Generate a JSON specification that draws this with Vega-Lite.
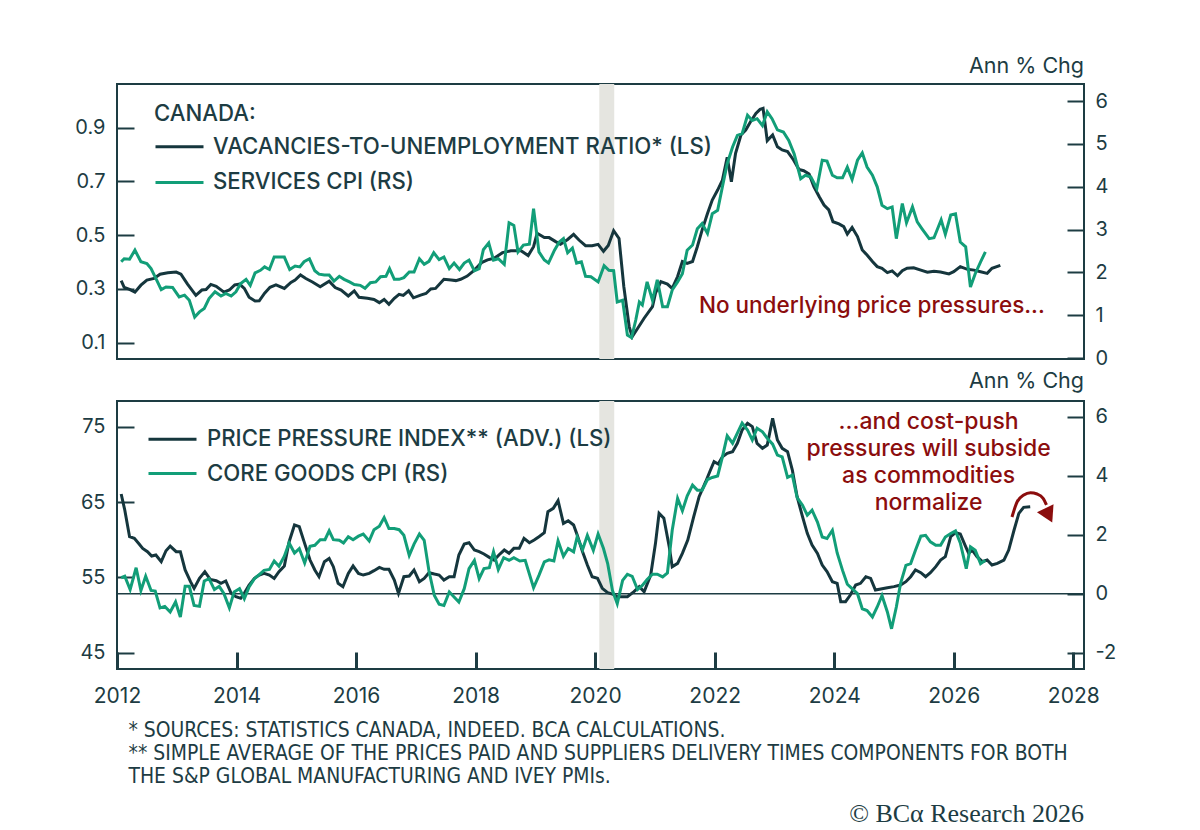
{
  "$schema": "https://vega.github.io/schema/vega-lite/v6.json",
  "background": "white",
  "padding": {"left": 73, "top": 54, "right": 5, "bottom": 2},
  "spacing": 42,
  "bounds": "flush",
  "datasets": {
    "vu": [
      {"date":2012.07,"value":0.331},{"date":2012.12,"value":0.306},{"date":2012.21,"value":0.298},{"date":2012.30,"value":0.288},{"date":2012.40,"value":0.314},{"date":2012.50,"value":0.333},{"date":2012.62,"value":0.339},{"date":2012.72,"value":0.355},{"date":2012.85,"value":0.360},{"date":2012.99,"value":0.363},
      {"date":2013.07,"value":0.355},{"date":2013.18,"value":0.318},{"date":2013.32,"value":0.276},{"date":2013.42,"value":0.296},{"date":2013.49,"value":0.298},{"date":2013.57,"value":0.317},{"date":2013.66,"value":0.310},{"date":2013.79,"value":0.288},{"date":2013.88,"value":0.296},{"date":2013.97,"value":0.315},
      {"date":2014.05,"value":0.318},{"date":2014.13,"value":0.302},{"date":2014.21,"value":0.269},{"date":2014.31,"value":0.255},{"date":2014.38,"value":0.256},{"date":2014.47,"value":0.284},{"date":2014.56,"value":0.306},{"date":2014.66,"value":0.315},{"date":2014.80,"value":0.302},{"date":2014.91,"value":0.324},{"date":2014.98,"value":0.333},
      {"date":2015.07,"value":0.352},{"date":2015.16,"value":0.339},{"date":2015.27,"value":0.326},{"date":2015.40,"value":0.308},{"date":2015.55,"value":0.329},{"date":2015.65,"value":0.305},{"date":2015.75,"value":0.296},{"date":2015.87,"value":0.274},{"date":2015.97,"value":0.293},
      {"date":2016.05,"value":0.269},{"date":2016.19,"value":0.265},{"date":2016.30,"value":0.261},{"date":2016.39,"value":0.249},{"date":2016.47,"value":0.261},{"date":2016.55,"value":0.243},{"date":2016.64,"value":0.265},{"date":2016.72,"value":0.280},{"date":2016.79,"value":0.276},{"date":2016.88,"value":0.293},{"date":2016.96,"value":0.267},
      {"date":2017.08,"value":0.277},{"date":2017.17,"value":0.283},{"date":2017.25,"value":0.300},{"date":2017.33,"value":0.302},{"date":2017.47,"value":0.336},{"date":2017.59,"value":0.333},{"date":2017.67,"value":0.331},{"date":2017.75,"value":0.336},{"date":2017.86,"value":0.348},{"date":2017.98,"value":0.370},
      {"date":2018.10,"value":0.398},{"date":2018.20,"value":0.408},{"date":2018.31,"value":0.414},{"date":2018.45,"value":0.435},{"date":2018.59,"value":0.442},{"date":2018.76,"value":0.442},{"date":2018.88,"value":0.424},{"date":2018.97,"value":0.457},
      {"date":2019.03,"value":0.507},{"date":2019.15,"value":0.491},{"date":2019.23,"value":0.491},{"date":2019.34,"value":0.476},{"date":2019.42,"value":0.466},{"date":2019.54,"value":0.484},{"date":2019.64,"value":0.503},{"date":2019.73,"value":0.482},{"date":2019.84,"value":0.461},{"date":2019.95,"value":0.461},
      {"date":2020.05,"value":0.466},{"date":2020.14,"value":0.440},{"date":2020.22,"value":0.462},{"date":2020.31,"value":0.517},{"date":2020.40,"value":0.488},{"date":2020.48,"value":0.309},{"date":2020.57,"value":0.160},{"date":2020.62,"value":0.122},{"date":2020.71,"value":0.153},{"date":2020.82,"value":0.191},{"date":2020.96,"value":0.234},
      {"date":2021.01,"value":0.284},{"date":2021.10,"value":0.327},{"date":2021.21,"value":0.318},{"date":2021.29,"value":0.302},{"date":2021.38,"value":0.346},{"date":2021.46,"value":0.402},{"date":2021.54,"value":0.395},{"date":2021.63,"value":0.402},{"date":2021.71,"value":0.457},{"date":2021.79,"value":0.519},{"date":2021.88,"value":0.581},{"date":2021.96,"value":0.631},
      {"date":2022.05,"value":0.668},{"date":2022.13,"value":0.705},{"date":2022.21,"value":0.790},{"date":2022.28,"value":0.699},{"date":2022.35,"value":0.805},{"date":2022.44,"value":0.873},{"date":2022.52,"value":0.891},{"date":2022.60,"value":0.922},{"date":2022.69,"value":0.953},{"date":2022.76,"value":0.968},{"date":2022.81,"value":0.972},{"date":2022.88,"value":0.852},{"date":2022.97,"value":0.873},
      {"date":2023.05,"value":0.829},{"date":2023.13,"value":0.817},{"date":2023.22,"value":0.811},{"date":2023.32,"value":0.780},{"date":2023.41,"value":0.745},{"date":2023.49,"value":0.740},{"date":2023.58,"value":0.728},{"date":2023.66,"value":0.681},{"date":2023.75,"value":0.643},{"date":2023.83,"value":0.612},{"date":2023.91,"value":0.594},{"date":2023.98,"value":0.550},
      {"date":2024.08,"value":0.542},{"date":2024.16,"value":0.532},{"date":2024.22,"value":0.504},{"date":2024.30,"value":0.529},{"date":2024.39,"value":0.495},{"date":2024.47,"value":0.445},{"date":2024.55,"value":0.426},{"date":2024.64,"value":0.402},{"date":2024.72,"value":0.383},{"date":2024.80,"value":0.377},{"date":2024.89,"value":0.361},{"date":2024.97,"value":0.367},
      {"date":2025.06,"value":0.349},{"date":2025.14,"value":0.368},{"date":2025.22,"value":0.377},{"date":2025.33,"value":0.379},{"date":2025.45,"value":0.370},{"date":2025.56,"value":0.362},{"date":2025.67,"value":0.366},{"date":2025.78,"value":0.363},{"date":2025.92,"value":0.356},
      {"date":2026.00,"value":0.364},{"date":2026.11,"value":0.383},{"date":2026.23,"value":0.373},{"date":2026.34,"value":0.370},{"date":2026.45,"value":0.364},{"date":2026.56,"value":0.358},{"date":2026.64,"value":0.377},{"date":2026.78,"value":0.388}
    ],
    "svc": [
      {"date":2012.07,"value":2.25},{"date":2012.12,"value":2.32},{"date":2012.21,"value":2.31},{"date":2012.30,"value":2.52},{"date":2012.40,"value":2.25},{"date":2012.50,"value":2.21},{"date":2012.57,"value":2.09},{"date":2012.65,"value":1.86},{"date":2012.74,"value":1.60},{"date":2012.82,"value":1.66},{"date":2012.93,"value":1.65},
      {"date":2013.04,"value":1.43},{"date":2013.13,"value":1.47},{"date":2013.21,"value":1.35},{"date":2013.30,"value":0.96},{"date":2013.38,"value":1.08},{"date":2013.46,"value":1.16},{"date":2013.54,"value":1.39},{"date":2013.64,"value":1.55},{"date":2013.74,"value":1.45},{"date":2013.82,"value":1.51},{"date":2013.91,"value":1.45},{"date":2013.99,"value":1.55},
      {"date":2014.07,"value":1.74},{"date":2014.16,"value":1.84},{"date":2014.23,"value":1.70},{"date":2014.31,"value":1.99},{"date":2014.40,"value":2.05},{"date":2014.47,"value":2.13},{"date":2014.55,"value":2.07},{"date":2014.63,"value":2.36},{"date":2014.71,"value":2.36},{"date":2014.80,"value":2.36},{"date":2014.89,"value":2.07},{"date":2014.98,"value":2.15},
      {"date":2015.06,"value":2.13},{"date":2015.13,"value":2.25},{"date":2015.22,"value":2.32},{"date":2015.31,"value":2.04},{"date":2015.38,"value":1.96},{"date":2015.47,"value":1.94},{"date":2015.55,"value":1.94},{"date":2015.63,"value":1.80},{"date":2015.72,"value":1.91},{"date":2015.80,"value":1.84},{"date":2015.89,"value":1.78},{"date":2015.97,"value":1.72},
      {"date":2016.07,"value":1.70},{"date":2016.15,"value":1.63},{"date":2016.24,"value":1.76},{"date":2016.33,"value":1.78},{"date":2016.41,"value":1.90},{"date":2016.50,"value":1.91},{"date":2016.56,"value":2.09},{"date":2016.64,"value":1.84},{"date":2016.72,"value":1.84},{"date":2016.80,"value":1.88},{"date":2016.89,"value":2.01},{"date":2016.97,"value":2.01},
      {"date":2017.06,"value":2.32},{"date":2017.14,"value":2.19},{"date":2017.22,"value":2.26},{"date":2017.30,"value":2.46},{"date":2017.39,"value":2.30},{"date":2017.47,"value":2.36},{"date":2017.56,"value":2.09},{"date":2017.64,"value":2.22},{"date":2017.73,"value":2.07},{"date":2017.81,"value":2.22},{"date":2017.89,"value":2.29},{"date":2017.98,"value":2.04},
      {"date":2018.06,"value":2.09},{"date":2018.13,"value":2.53},{"date":2018.22,"value":2.69},{"date":2018.30,"value":2.29},{"date":2018.38,"value":2.32},{"date":2018.48,"value":2.19},{"date":2018.56,"value":3.16},{"date":2018.64,"value":3.10},{"date":2018.71,"value":2.48},{"date":2018.80,"value":2.64},{"date":2018.90,"value":2.66},{"date":2018.97,"value":3.49},
      {"date":2019.06,"value":2.48},{"date":2019.15,"value":2.29},{"date":2019.22,"value":2.22},{"date":2019.32,"value":2.52},{"date":2019.40,"value":2.71},{"date":2019.47,"value":2.79},{"date":2019.54,"value":2.46},{"date":2019.62,"value":2.57},{"date":2019.69,"value":2.22},{"date":2019.77,"value":2.25},{"date":2019.84,"value":1.91},{"date":2019.93,"value":1.90},
      {"date":2020.05,"value":1.78},{"date":2020.15,"value":2.16},{"date":2020.23,"value":2.05},{"date":2020.31,"value":2.04},{"date":2020.37,"value":1.31},{"date":2020.46,"value":1.35},{"date":2020.54,"value":0.54},{"date":2020.61,"value":0.48},{"date":2020.68,"value":0.89},{"date":2020.74,"value":1.31},{"date":2020.79,"value":1.24},{"date":2020.87,"value":1.78},{"date":2020.96,"value":1.35},
      {"date":2021.04,"value":1.83},{"date":2021.13,"value":1.20},{"date":2021.21,"value":1.20},{"date":2021.29,"value":1.59},{"date":2021.38,"value":1.78},{"date":2021.46,"value":1.97},{"date":2021.54,"value":2.52},{"date":2021.63,"value":2.64},{"date":2021.71,"value":3.02},{"date":2021.79,"value":3.14},{"date":2021.88,"value":2.91},{"date":2021.96,"value":3.37},
      {"date":2022.05,"value":3.45},{"date":2022.13,"value":4.00},{"date":2022.21,"value":4.54},{"date":2022.30,"value":4.93},{"date":2022.38,"value":5.20},{"date":2022.46,"value":5.24},{"date":2022.55,"value":5.67},{"date":2022.63,"value":5.55},{"date":2022.71,"value":5.59},{"date":2022.80,"value":5.43},{"date":2022.88,"value":5.75},{"date":2022.96,"value":5.59},
      {"date":2023.05,"value":5.33},{"date":2023.15,"value":5.28},{"date":2023.24,"value":5.08},{"date":2023.33,"value":4.77},{"date":2023.44,"value":4.19},{"date":2023.52,"value":4.27},{"date":2023.61,"value":4.23},{"date":2023.71,"value":3.96},{"date":2023.80,"value":4.62},{"date":2023.88,"value":4.60},{"date":2023.97,"value":4.27},
      {"date":2024.05,"value":4.21},{"date":2024.14,"value":4.21},{"date":2024.22,"value":4.46},{"date":2024.30,"value":4.17},{"date":2024.39,"value":4.62},{"date":2024.47,"value":4.79},{"date":2024.55,"value":4.46},{"date":2024.64,"value":4.27},{"date":2024.72,"value":4.00},{"date":2024.80,"value":3.57},{"date":2024.89,"value":3.49},{"date":2024.97,"value":3.53},
      {"date":2025.04,"value":2.79},{"date":2025.14,"value":3.61},{"date":2025.21,"value":3.16},{"date":2025.31,"value":3.53},{"date":2025.39,"value":3.18},{"date":2025.47,"value":3.02},{"date":2025.59,"value":2.79},{"date":2025.67,"value":2.81},{"date":2025.79,"value":3.23},{"date":2025.86,"value":2.89},{"date":2025.95,"value":3.34},
      {"date":2026.03,"value":3.37},{"date":2026.11,"value":2.71},{"date":2026.20,"value":2.60},{"date":2026.28,"value":1.66},{"date":2026.36,"value":1.97},{"date":2026.45,"value":2.25},{"date":2026.53,"value":2.48}
    ],
    "ppi": [
      {"date":2012.07,"value":66.07},{"date":2012.13,"value":63.94},{"date":2012.21,"value":60.40},{"date":2012.29,"value":60.18},{"date":2012.36,"value":59.52},{"date":2012.43,"value":58.85},{"date":2012.51,"value":58.41},{"date":2012.58,"value":57.84},{"date":2012.65,"value":57.97},{"date":2012.74,"value":57.08},{"date":2012.82,"value":58.54},{"date":2012.89,"value":59.16},{"date":2012.99,"value":58.41},
      {"date":2013.06,"value":58.41},{"date":2013.14,"value":55.98},{"date":2013.23,"value":54.43},{"date":2013.29,"value":53.54},{"date":2013.38,"value":54.87},{"date":2013.47,"value":55.76},{"date":2013.56,"value":54.74},{"date":2013.66,"value":54.56},{"date":2013.74,"value":54.21},{"date":2013.82,"value":54.52},{"date":2013.91,"value":52.88},{"date":2013.99,"value":52.44},
      {"date":2014.07,"value":52.22},{"date":2014.13,"value":52.88},{"date":2014.21,"value":53.99},{"date":2014.30,"value":54.87},{"date":2014.38,"value":55.31},{"date":2014.46,"value":55.53},{"date":2014.55,"value":55.31},{"date":2014.63,"value":54.87},{"date":2014.71,"value":55.76},{"date":2014.80,"value":56.51},{"date":2014.88,"value":59.74},{"date":2014.97,"value":61.95},
      {"date":2015.05,"value":61.73},{"date":2015.13,"value":59.74},{"date":2015.23,"value":57.30},{"date":2015.31,"value":55.98},{"date":2015.38,"value":55.09},{"date":2015.47,"value":57.08},{"date":2015.55,"value":57.52},{"date":2015.62,"value":56.42},{"date":2015.70,"value":54.21},{"date":2015.78,"value":53.76},{"date":2015.87,"value":55.53},{"date":2015.95,"value":56.51},
      {"date":2016.04,"value":55.53},{"date":2016.12,"value":55.31},{"date":2016.22,"value":55.53},{"date":2016.30,"value":55.89},{"date":2016.39,"value":56.33},{"date":2016.47,"value":56.07},{"date":2016.55,"value":56.07},{"date":2016.64,"value":54.65},{"date":2016.71,"value":52.88},{"date":2016.80,"value":55.09},{"date":2016.89,"value":55.18},{"date":2016.97,"value":55.98},
      {"date":2017.06,"value":54.43},{"date":2017.14,"value":54.87},{"date":2017.22,"value":55.62},{"date":2017.31,"value":55.44},{"date":2017.39,"value":55.31},{"date":2017.47,"value":54.65},{"date":2017.56,"value":55.09},{"date":2017.64,"value":55.09},{"date":2017.72,"value":57.97},{"date":2017.81,"value":59.43},{"date":2017.89,"value":59.60},{"date":2017.98,"value":58.63},
      {"date":2018.06,"value":58.41},{"date":2018.14,"value":58.10},{"date":2018.23,"value":57.66},{"date":2018.31,"value":57.30},{"date":2018.39,"value":57.97},{"date":2018.48,"value":58.63},{"date":2018.56,"value":58.19},{"date":2018.64,"value":58.85},{"date":2018.73,"value":58.85},{"date":2018.81,"value":60.18},{"date":2018.90,"value":59.60},{"date":2018.98,"value":59.96},
      {"date":2019.06,"value":60.40},{"date":2019.15,"value":60.93},{"date":2019.21,"value":63.72},{"date":2019.30,"value":64.16},{"date":2019.38,"value":65.18},{"date":2019.47,"value":62.17},{"date":2019.55,"value":62.52},{"date":2019.64,"value":61.95},{"date":2019.70,"value":60.62},{"date":2019.79,"value":58.41},{"date":2019.87,"value":56.64},{"date":2019.95,"value":55.09},
      {"date":2020.04,"value":54.87},{"date":2020.12,"value":53.54},{"date":2020.21,"value":52.97},{"date":2020.29,"value":52.79},{"date":2020.37,"value":52.44},{"date":2020.54,"value":52.44},{"date":2020.65,"value":53.10},{"date":2020.74,"value":53.77},{"date":2020.82,"value":53.10},{"date":2020.93,"value":55.31},
      {"date":2021.01,"value":59.52},{"date":2021.07,"value":63.50},{"date":2021.15,"value":62.84},{"date":2021.24,"value":59.07},{"date":2021.29,"value":56.42},{"date":2021.38,"value":56.86},{"date":2021.46,"value":58.19},{"date":2021.55,"value":59.96},{"date":2021.65,"value":63.06},{"date":2021.74,"value":65.71},{"date":2021.85,"value":67.70},{"date":2021.93,"value":69.25},{"date":2021.99,"value":70.36},
      {"date":2022.06,"value":70.05},{"date":2022.13,"value":71.02},{"date":2022.21,"value":71.47},{"date":2022.30,"value":71.69},{"date":2022.38,"value":72.79},{"date":2022.46,"value":74.56},{"date":2022.55,"value":75.45},{"date":2022.63,"value":75.01},{"date":2022.71,"value":72.79},{"date":2022.80,"value":72.13},{"date":2022.88,"value":72.57},{"date":2022.97,"value":76.11},
      {"date":2023.05,"value":73.24},{"date":2023.13,"value":72.13},{"date":2023.22,"value":71.69},{"date":2023.30,"value":69.25},{"date":2023.38,"value":65.71},{"date":2023.47,"value":63.06},{"date":2023.55,"value":60.85},{"date":2023.63,"value":59.30},{"date":2023.72,"value":58.19},{"date":2023.80,"value":56.64},{"date":2023.88,"value":55.76},{"date":2023.97,"value":54.43},
      {"date":2024.05,"value":54.21},{"date":2024.11,"value":51.77},{"date":2024.19,"value":51.77},{"date":2024.27,"value":52.66},{"date":2024.36,"value":53.99},{"date":2024.44,"value":54.21},{"date":2024.53,"value":55.09},{"date":2024.61,"value":54.87},{"date":2024.69,"value":53.32},{"date":2024.78,"value":53.46},{"date":2024.89,"value":53.63},
      {"date":2025.00,"value":53.77},{"date":2025.11,"value":53.99},{"date":2025.20,"value":54.43},{"date":2025.28,"value":55.09},{"date":2025.36,"value":55.98},{"date":2025.45,"value":55.62},{"date":2025.53,"value":55.09},{"date":2025.61,"value":55.62},{"date":2025.70,"value":56.42},{"date":2025.78,"value":57.30},{"date":2025.86,"value":57.75},{"date":2025.95,"value":60.40},
      {"date":2026.03,"value":60.93},{"date":2026.11,"value":60.76},{"date":2026.20,"value":59.08},{"date":2026.25,"value":58.19},{"date":2026.31,"value":58.63},{"date":2026.39,"value":57.75},{"date":2026.48,"value":57.08},{"date":2026.56,"value":57.30},{"date":2026.64,"value":56.64},{"date":2026.73,"value":56.86},{"date":2026.84,"value":57.30},{"date":2026.92,"value":58.63},
      {"date":2027.01,"value":61.29},{"date":2027.09,"value":63.50},{"date":2027.17,"value":64.30},{"date":2027.28,"value":64.39}
    ],
    "core": [
      {"date":2012.07,"value":0.54},{"date":2012.13,"value":0.59},{"date":2012.22,"value":0.14},{"date":2012.32,"value":0.88},{"date":2012.40,"value":0.11},{"date":2012.48,"value":0.59},{"date":2012.57,"value":0.11},{"date":2012.64,"value":0.09},{"date":2012.72,"value":-0.48},{"date":2012.80,"value":-0.43},{"date":2012.89,"value":-0.62},{"date":2012.98,"value":-0.28},
      {"date":2013.06,"value":-0.79},{"date":2013.14,"value":0.25},{"date":2013.21,"value":0.25},{"date":2013.29,"value":-0.40},{"date":2013.38,"value":-0.43},{"date":2013.46,"value":0.43},{"date":2013.54,"value":0.51},{"date":2013.63,"value":0.14},{"date":2013.71,"value":0.25},{"date":2013.79,"value":0.00},{"date":2013.88,"value":-0.48},{"date":2013.96,"value":0.06},
      {"date":2014.05,"value":0.17},{"date":2014.13,"value":-0.17},{"date":2014.21,"value":0.23},{"date":2014.30,"value":0.51},{"date":2014.38,"value":0.65},{"date":2014.46,"value":0.79},{"date":2014.55,"value":0.82},{"date":2014.63,"value":1.11},{"date":2014.71,"value":0.93},{"date":2014.80,"value":1.27},{"date":2014.88,"value":1.72},{"date":2014.97,"value":1.38},
      {"date":2015.05,"value":1.53},{"date":2015.14,"value":1.04},{"date":2015.23,"value":1.61},{"date":2015.31,"value":1.64},{"date":2015.40,"value":1.83},{"date":2015.48,"value":1.83},{"date":2015.55,"value":2.13},{"date":2015.62,"value":1.83},{"date":2015.72,"value":1.81},{"date":2015.79,"value":1.72},{"date":2015.87,"value":1.93},{"date":2015.95,"value":1.83},
      {"date":2016.04,"value":1.95},{"date":2016.12,"value":2.02},{"date":2016.22,"value":1.79},{"date":2016.30,"value":2.17},{"date":2016.39,"value":2.29},{"date":2016.47,"value":2.58},{"date":2016.55,"value":2.21},{"date":2016.64,"value":2.21},{"date":2016.72,"value":2.17},{"date":2016.80,"value":1.98},{"date":2016.89,"value":1.30},{"date":2016.97,"value":1.68},
      {"date":2017.06,"value":2.02},{"date":2017.14,"value":1.81},{"date":2017.22,"value":0.77},{"date":2017.31,"value":-0.06},{"date":2017.39,"value":-0.36},{"date":2017.47,"value":-0.40},{"date":2017.56,"value":0.06},{"date":2017.64,"value":-0.11},{"date":2017.72,"value":-0.28},{"date":2017.81,"value":0.17},{"date":2017.89,"value":0.85},{"date":2017.98,"value":1.13},
      {"date":2018.06,"value":0.51},{"date":2018.14,"value":0.85},{"date":2018.23,"value":0.88},{"date":2018.30,"value":1.42},{"date":2018.38,"value":0.82},{"date":2018.47,"value":1.22},{"date":2018.56,"value":1.13},{"date":2018.64,"value":1.22},{"date":2018.74,"value":1.11},{"date":2018.83,"value":1.13},{"date":2018.97,"value":0.20},
      {"date":2019.06,"value":0.62},{"date":2019.15,"value":1.08},{"date":2019.23,"value":1.15},{"date":2019.31,"value":1.11},{"date":2019.38,"value":1.79},{"date":2019.47,"value":1.27},{"date":2019.55,"value":1.53},{"date":2019.64,"value":1.42},{"date":2019.70,"value":1.93},{"date":2019.79,"value":1.49},{"date":2019.87,"value":1.98},{"date":2019.97,"value":1.47},
      {"date":2020.05,"value":2.02},{"date":2020.14,"value":1.53},{"date":2020.21,"value":1.02},{"date":2020.29,"value":0.11},{"date":2020.37,"value":-0.34},{"date":2020.46,"value":0.45},{"date":2020.54,"value":0.66},{"date":2020.62,"value":0.59},{"date":2020.71,"value":0.14},{"date":2020.79,"value":0.28},{"date":2020.87,"value":0.48},{"date":2020.96,"value":0.66},
      {"date":2021.04,"value":0.66},{"date":2021.13,"value":0.57},{"date":2021.21,"value":0.70},{"date":2021.29,"value":2.15},{"date":2021.38,"value":3.23},{"date":2021.46,"value":2.81},{"date":2021.54,"value":3.31},{"date":2021.63,"value":3.68},{"date":2021.71,"value":3.51},{"date":2021.79,"value":3.51},{"date":2021.88,"value":3.87},{"date":2021.96,"value":3.94},
      {"date":2022.05,"value":3.99},{"date":2022.13,"value":4.64},{"date":2022.21,"value":5.35},{"date":2022.30,"value":5.10},{"date":2022.38,"value":5.44},{"date":2022.46,"value":5.78},{"date":2022.55,"value":5.55},{"date":2022.63,"value":5.21},{"date":2022.71,"value":5.61},{"date":2022.80,"value":5.49},{"date":2022.88,"value":5.27},{"date":2022.97,"value":5.07},
      {"date":2023.05,"value":4.70},{"date":2023.13,"value":4.64},{"date":2023.22,"value":3.94},{"date":2023.30,"value":4.02},{"date":2023.38,"value":3.26},{"date":2023.47,"value":3.00},{"date":2023.55,"value":2.66},{"date":2023.63,"value":2.83},{"date":2023.72,"value":2.43},{"date":2023.80,"value":1.92},{"date":2023.88,"value":1.87},{"date":2023.97,"value":2.15},
      {"date":2024.05,"value":1.38},{"date":2024.14,"value":0.79},{"date":2024.22,"value":0.32},{"date":2024.30,"value":0.17},{"date":2024.39,"value":0.00},{"date":2024.47,"value":-0.51},{"date":2024.55,"value":-0.57},{"date":2024.64,"value":-0.79},{"date":2024.72,"value":-0.45},{"date":2024.80,"value":-0.06},{"date":2024.89,"value":-0.62},{"date":2024.96,"value":-1.19},
      {"date":2025.04,"value":-0.45},{"date":2025.11,"value":0.34},{"date":2025.20,"value":0.96},{"date":2025.28,"value":1.02},{"date":2025.36,"value":1.47},{"date":2025.45,"value":1.95},{"date":2025.53,"value":1.98},{"date":2025.61,"value":1.76},{"date":2025.70,"value":1.64},{"date":2025.78,"value":1.64},{"date":2025.86,"value":1.92},{"date":2025.95,"value":2.04},
      {"date":2026.03,"value":2.13},{"date":2026.11,"value":1.72},{"date":2026.21,"value":0.85},{"date":2026.28,"value":1.59},{"date":2026.36,"value":1.47},{"date":2026.45,"value":1.02},{"date":2026.53,"value":1.13}
    ],
    "arrow": [
      {"date":2026.975,"value":63.01},{"date":2027.062,"value":65.04},{"date":2027.172,"value":65.93},{"date":2027.284,"value":66.24},{"date":2027.396,"value":66.07},{"date":2027.496,"value":65.50},{"date":2027.552,"value":64.61}
    ],
    "recession": [{"start":2020.07,"end":2020.32}]
  },
  "vconcat": [
    {
      "width": 967,
      "height": 275,
      "layer": [
        {
          "data": {"name": "recession"},
          "mark": {"type": "rect", "color": "#e5e5e0"},
          "encoding": {
            "x": {"field": "start", "type": "quantitative", "scale": {"domain": [2012, 2028.18], "nice": false, "zero": false}, "axis": null},
            "x2": {"field": "end"}
          }
        },
        {
          "layer": [
            {
              "data": {"name": "vu"},
              "mark": {"type": "line", "strokeWidth": 3},
              "encoding": {
                "x": {"field": "date", "type": "quantitative", "axis": null},
                "y": {"field": "value", "type": "quantitative",
                      "scale": {"domain": [0.0393, 1.0626], "nice": false, "zero": false},
                      "axis": {"orient": "left", "values": [0.1, 0.3, 0.5, 0.7, 0.9], "format": ".1f", "title": null}},
                "color": {"datum": "VACANCIES-TO-UNEMPLOYMENT RATIO* (LS)",
                          "scale": {"domain": ["VACANCIES-TO-UNEMPLOYMENT RATIO* (LS)", "SERVICES CPI (RS)"], "range": ["#15363d", "#129e78"]},
                          "legend": {"title": "CANADA:", "orient": "none", "legendX": 37, "legendY": 19, "symbolType": "M-1,0H3", "symbolSize": 576, "symbolStrokeWidth": 3, "labelOffset": 32, "rowPadding": 10.7, "titlePadding": 8, "labelLimit": 800, "padding": 0}}
              }
            },
            {
              "data": {"values": [{}]},
              "mark": {"type": "text", "color": "#8b0d0d", "fontSize": 22.5, "fontWeight": 500, "align": "center", "baseline": "middle"},
              "encoding": {
                "x": {"datum": 2024.63, "type": "quantitative", "axis": null},
                "y": {"datum": 0.2366, "type": "quantitative"},
                "text": {"value": "No underlying price pressures..."}
              }
            }
          ]
        },
        {
          "data": {"name": "svc"},
          "mark": {"type": "line", "strokeWidth": 3},
          "encoding": {
            "x": {"field": "date", "type": "quantitative", "axis": null},
            "y": {"field": "value", "type": "quantitative",
                  "scale": {"domain": [-0.02, 6.4], "nice": false, "zero": false},
                  "axis": {"orient": "right", "values": [0, 1, 2, 3, 4, 5, 6], "labelPadding": 28, "title": "Ann % Chg", "titleAngle": 0, "titleX": -58, "titleY": -18, "titleAlign": "center", "titleBaseline": "middle"}},
            "color": {"datum": "SERVICES CPI (RS)"}
          }
        }
      ],
      "resolve": {"scale": {"y": "independent"}}
    },
    {
      "width": 967,
      "height": 268,
      "title": {"text": "© BCα Research 2026", "orient": "bottom", "anchor": "end", "frame": "group", "font": "Liberation Serif", "fontSize": 26, "fontWeight": "normal", "color": "#1d3c43", "offset": 15},
      "layer": [
        {
          "data": {"name": "recession"},
          "mark": {"type": "rect", "color": "#e5e5e0"},
          "encoding": {
            "x": {"field": "start", "type": "quantitative", "scale": {"domain": [2012, 2028.18], "nice": false, "zero": false},
                  "axis": {"values": [2012, 2014, 2016, 2018, 2020, 2022, 2024, 2026, 2028], "format": "d", "tickWidth": 3, "labelPadding": 33, "labelFontSize": 21, "labelFlush": false,
                           "title": ["* SOURCES: STATISTICS CANADA, INDEED. BCA CALCULATIONS.", "** SIMPLE AVERAGE OF THE PRICES PAID AND SUPPLIERS DELIVERY TIMES COMPONENTS FOR BOTH", "THE S&P GLOBAL MANUFACTURING AND IVEY PMIs."],
                           "titleFont": "Liberation Sans Narrow, DejaVu Sans Condensed, Lato", "titleFontSize": 20.9, "titleLineHeight": 23, "titleAnchor": "start", "titleAlign": "left", "titleBaseline": "top", "titleX": 11, "titleY": 50}},
            "x2": {"field": "end"}
          }
        },
        {
          "layer": [
            {
              "data": {"name": "ppi"},
              "mark": {"type": "line", "strokeWidth": 3},
              "encoding": {
                "x": {"field": "date", "type": "quantitative"},
                "y": {"field": "value", "type": "quantitative",
                      "scale": {"domain": [42.84, 78.41], "nice": false, "zero": false},
                      "axis": {"orient": "left", "values": [45, 55, 65, 75], "title": null}},
                "color": {"datum": "PRICE PRESSURE INDEX** (ADV.) (LS)",
                          "scale": {"domain": ["PRICE PRESSURE INDEX** (ADV.) (LS)", "CORE GOODS CPI (RS)"], "range": ["#15363d", "#129e78"]},
                          "legend": {"title": null, "orient": "none", "legendX": 30, "legendY": 24.7, "symbolType": "M-1,0H3", "symbolSize": 576, "symbolStrokeWidth": 3, "labelOffset": 33, "rowPadding": 9.3, "labelLimit": 800, "padding": 0}}
              }
            },
            {
              "data": {"name": "arrow"},
              "mark": {"type": "line", "color": "#8b0d0d", "strokeWidth": 3, "interpolate": "monotone"},
              "encoding": {
                "x": {"field": "date", "type": "quantitative"},
                "y": {"field": "value", "type": "quantitative"}
              }
            },
            {
              "data": {"values": [{}]},
              "mark": {"type": "point", "shape": "triangle-up", "filled": true, "color": "#8b0d0d", "size": 340, "angle": 154, "opacity": 1},
              "encoding": {
                "x": {"datum": 2027.59, "type": "quantitative"},
                "y": {"datum": 63.22, "type": "quantitative"}
              }
            },
            {
              "data": {"values": [{}]},
              "mark": {"type": "text", "color": "#8b0d0d", "fontSize": 23, "fontWeight": 500, "align": "center", "baseline": "middle", "lineHeight": 27.2},
              "encoding": {
                "x": {"datum": 2025.58, "type": "quantitative"},
                "y": {"datum": 75.66, "type": "quantitative"},
                "text": {"value": ["...and cost-push", "pressures will subside", "as commodities", "normalize"]}
              }
            }
          ]
        },
        {
          "layer": [
            {
              "data": {"values": [{}]},
              "mark": {"type": "rule", "color": "#1d3c43", "strokeWidth": 1.5},
              "encoding": {
                "y": {"datum": 0, "type": "quantitative"}
              }
            },
            {
              "data": {"name": "core"},
              "mark": {"type": "line", "strokeWidth": 3},
              "encoding": {
                "x": {"field": "date", "type": "quantitative"},
                "y": {"field": "value", "type": "quantitative",
                      "scale": {"domain": [-2.553, 6.532], "nice": false, "zero": false},
                      "axis": {"orient": "right", "values": [-2, 0, 2, 4, 6], "labelExpr": "'' + datum.value", "labelPadding": 28, "title": "Ann % Chg", "titleAngle": 0, "titleX": -58, "titleY": -20, "titleAlign": "center", "titleBaseline": "middle"}},
                "color": {"datum": "CORE GOODS CPI (RS)"}
              }
            }
          ]
        }
      ],
      "resolve": {"scale": {"y": "independent"}}
    }
  ],
  "resolve": {"scale": {"color": "independent"}, "legend": {"color": "independent"}},
  "config": {
    "font": "Inter",
    "view": {"stroke": "#1d3c43", "strokeWidth": 2},
    "axis": {"domain": false, "grid": false, "labelFont": "Inter", "labelFontSize": 20, "labelColor": "#1d3c43", "tickColor": "#1d3c43", "tickWidth": 2, "tickSize": -17, "labelPadding": 29, "titleFont": "Inter", "titleFontSize": 21.5, "titleFontWeight": "normal", "titleColor": "#1d3c43"},
    "legend": {"labelFont": "Inter", "labelFontSize": 22.2, "labelFontWeight": 500, "labelColor": "#1d3c43", "titleFont": "Inter", "titleFontSize": 22.2, "titleFontWeight": 500, "titleColor": "#1d3c43"},
    "text": {"font": "Inter"},
    "title": {"color": "#1d3c43"}
  }
}
